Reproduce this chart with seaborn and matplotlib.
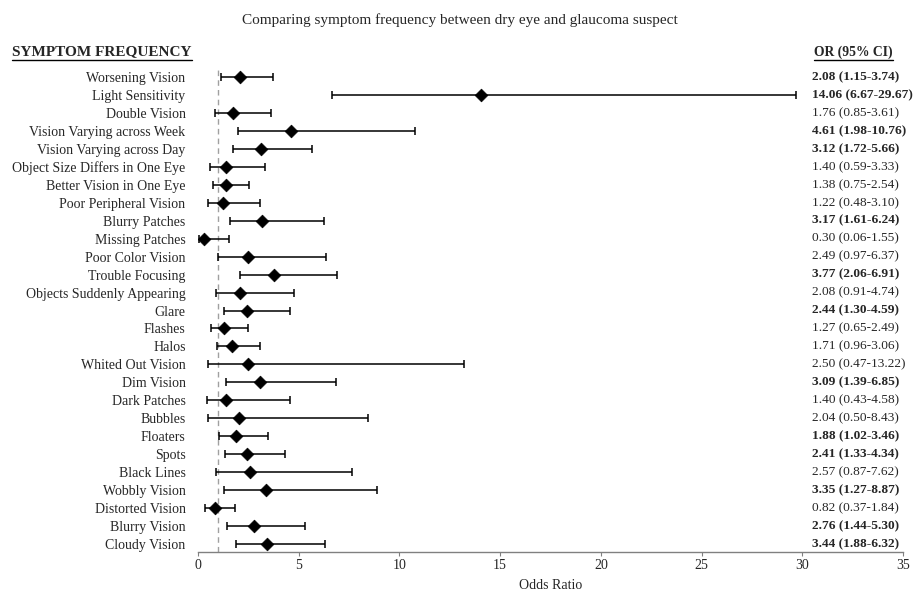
import pandas as pd
import seaborn as sns
import matplotlib.pyplot as plt
from matplotlib.lines import Line2D
from matplotlib.transforms import blended_transform_factory

# --- Data ---
symptoms = [
    "Worsening Vision", "Light Sensitivity", "Double Vision",
    "Vision Varying across Week", "Vision Varying across Day",
    "Object Size Differs in One Eye", "Better Vision in One Eye",
    "Poor Peripheral Vision", "Blurry Patches", "Missing Patches",
    "Poor Color Vision", "Trouble Focusing", "Objects Suddenly Appearing",
    "Glare", "Flashes", "Halos", "Whited Out Vision", "Dim Vision",
    "Dark Patches", "Bubbles", "Floaters", "Spots", "Black Lines",
    "Wobbly Vision", "Distorted Vision", "Blurry Vision", "Cloudy Vision",
]
odds_ratio = [2.08, 14.06, 1.76, 4.61, 3.12, 1.40, 1.38, 1.22, 3.17, 0.30,
              2.49, 3.77, 2.08, 2.44, 1.27, 1.71, 2.50, 3.09, 1.40, 2.04,
              1.88, 2.41, 2.57, 3.35, 0.82, 2.76, 3.44]
ci_low = [1.15, 6.67, 0.85, 1.98, 1.72, 0.59, 0.75, 0.48, 1.61, 0.06,
          0.97, 2.06, 0.91, 1.30, 0.65, 0.96, 0.47, 1.39, 0.43, 0.50,
          1.02, 1.33, 0.87, 1.27, 0.37, 1.44, 1.88]
ci_high = [3.74, 29.67, 3.61, 10.76, 5.66, 3.33, 2.54, 3.10, 6.24, 1.55,
           6.37, 6.91, 4.74, 4.59, 2.49, 3.06, 13.22, 6.85, 4.58, 8.43,
           3.46, 4.34, 7.62, 8.87, 1.84, 5.30, 6.32]
x_ticks = [0, 5, 10, 15, 20, 25, 30, 35]

df = pd.DataFrame({"symptom": symptoms, "or": odds_ratio,
                   "lo": ci_low, "hi": ci_high})
df["row"] = range(len(df))
df["significant"] = df["lo"] > 1

sns.set_style("white")
plt.rcParams['font.family'] = ['Liberation Serif', 'DejaVu Serif']

fig = plt.figure(figsize=(9.19, 5.97), dpi=100)
ax = fig.add_axes([0.2155, 0.0754, 0.767, 0.814])

# confidence intervals
ax.errorbar(df["or"], df["row"],
            xerr=[df["or"] - df["lo"], df["hi"] - df["or"]],
            fmt="none", ecolor="black", elinewidth=1.1, capsize=3,
            capthick=1.1, zorder=2)
sns.scatterplot(data=df, x="or", y="row", marker="D", color="black",
                s=42, edgecolor="black", linewidth=0.5, ax=ax, zorder=3,
                legend=False)

ax.axvline(1, color="#a0a0a0", linestyle=(0, (4, 3)), linewidth=1.0, zorder=1)

ax.set_xlim(0, 35)
ax.set_ylim(len(df) - 0.55, -0.62)
ax.set_xticks(x_ticks)
ax.set_yticks(df["row"])
ax.set_yticklabels(df["symptom"], fontsize=10.0)
ax.tick_params(axis="y", length=0, pad=9)
ax.tick_params(axis="x", length=3, width=0.8, color="#808080",
               labelsize=10, pad=2, direction="out", bottom=True)
sns.despine(ax=ax, left=True)
ax.spines["bottom"].set_color("#808080")
ax.spines["bottom"].set_linewidth(1.0)
ax.set_xlabel("Odds Ratio", fontsize=10, labelpad=5)
ax.set_ylabel("")

# OR (95% CI) column
col_trans = blended_transform_factory(fig.transFigure, ax.transData)
text_x = 812 / 919
for _, r in df.iterrows():
    label = f"{r['or']:.2f} ({r['lo']:.2f}-{r['hi']:.2f})"
    ax.text(text_x, r["row"], label, transform=col_trans,
            ha="left", va="center", fontsize=9.6,
            fontweight="bold" if r["significant"] else "normal")

fig.suptitle("Comparing symptom frequency between dry eye and glaucoma suspect",
             fontsize=11, y=0.978)

# underlined column headers
headers = [
    fig.text(12 / 919, 1 - 52 / 597, "SYMPTOM FREQUENCY", fontsize=11,
             fontweight="bold", ha="left", va="center"),
    fig.text(814 / 919, 1 - 52 / 597, "OR (95% CI)", fontsize=9.8,
             fontweight="bold", ha="left", va="center"),
]
fig.canvas.draw()
for h in headers:
    bb = h.get_window_extent()
    y = (bb.y0 - 1) / fig.bbox.height
    fig.add_artist(Line2D([bb.x0 / fig.bbox.width, bb.x1 / fig.bbox.width],
                          [y, y], transform=fig.transFigure,
                          color="black", linewidth=1.0))

fig.savefig("out.png", dpi=100)
plt.close(fig)
